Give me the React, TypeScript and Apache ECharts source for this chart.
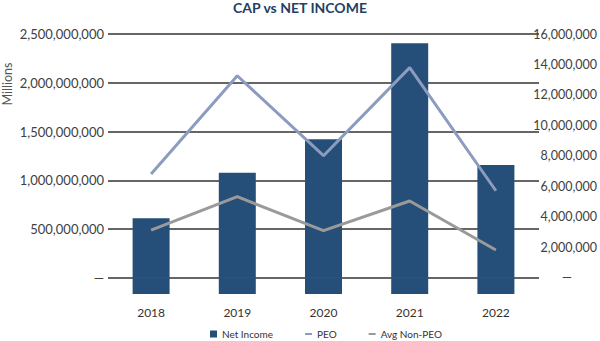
import React, { useEffect, useRef } from "react";
import * as echarts from "echarts";

const categories = ["2018", "2019", "2020", "2021", "2022"];
const netIncome = [610e6, 1077e6, 1420e6, 2405e6, 1156e6];
const peo = [6.81e6, 13.26e6, 8.01e6, 13.79e6, 5.71e6];
const avgNonPeo = [3.13e6, 5.32e6, 3.09e6, 5.04e6, 1.82e6];
const leftTicks = [0, 500e6, 1000e6, 1500e6, 2000e6, 2500e6];
const rightTicks = [0, 2e6, 4e6, 6e6, 8e6, 10e6, 12e6, 14e6, 16e6];

const LEFT_MAX = 2500e6;
const RIGHT_MAX = 16e6;
const LEFT_MIN = -LEFT_MAX / 15;
const RIGHT_MIN = -RIGHT_MAX / 15;
const barBase = categories.map(() => LEFT_MIN);

const FONT = "Lato";
const BAR = "#254f79";
const PEO_C = "#8b9cbe";
const NONPEO_C = "#9a9a9a";
const LINE_ICON =
  "path://M0,0L0.01,0L0.01,0.01L0,0.01Z M0,2.6L7,2.6L7,4.4L0,4.4Z M6.99,6.99L7,6.99L7,7L6.99,7Z";

const fmt = (v: number) => (v === 0 ? "—" : Math.round(v).toLocaleString("en-US"));

export default function App() {
  const ref = useRef<HTMLDivElement>(null);
  useEffect(() => {
    if (!ref.current) return;
    const chart = echarts.init(ref.current, null, { renderer: "svg" });
    chart.setOption({
      animation: false,
      textStyle: { fontFamily: FONT },
      title: {
        text: "CAP vs NET INCOME",
        left: "center",
        top: -5,
        textStyle: { fontFamily: FONT, fontWeight: "bold", fontSize: 14, color: "#243f66" },
      },
      graphic: [
        {
          type: "text",
          x: 1,
          y: 84,
          rotation: Math.PI / 2,
          style: {
            text: "Millions",
            fontFamily: FONT,
            fontSize: 12.5,
            fill: "#555",
            textAlign: "center",
            textVerticalAlign: "top",
          },
        },
      ],
      legend: {
        left: 210,
        top: 329,
        padding: 0,
        itemWidth: 7,
        itemHeight: 7,
        itemGap: 32,
        textStyle: { fontFamily: FONT, fontSize: 10, color: "#333" },
        data: [
          { name: "Net Income", icon: "rect" },
          { name: "PEO", icon: LINE_ICON },
          { name: "Avg Non-PEO", icon: LINE_ICON },
        ],
      },
      grid: { left: 108, right: 60, top: 34, bottom: 47, containLabel: false },
      xAxis: {
        type: "category",
        data: categories,
        axisLine: { show: false },
        axisTick: { show: false },
        axisLabel: { fontFamily: FONT, fontSize: 12, color: "#333", margin: 12 },
      },
      yAxis: [
        {
          type: "value",
          min: LEFT_MIN,
          max: LEFT_MAX,
          axisLine: { show: false },
          axisTick: { show: false, customValues: leftTicks },
          axisLabel: {
            customValues: leftTicks,
            formatter: fmt,
            fontFamily: FONT,
            fontSize: 13,
            color: "#404040",
            margin: 4,
          },
          splitLine: { show: true, lineStyle: { color: "#333", width: 1.5 } },
        },
        {
          type: "value",
          min: RIGHT_MIN,
          max: RIGHT_MAX,
          axisLine: { show: false },
          axisTick: { show: false, customValues: rightTicks },
          splitLine: { show: false },
          axisLabel: {
            customValues: rightTicks,
            align: "right",
            margin: 58,
            fontFamily: FONT,
            fontSize: 12.5,
            color: "#404040",
            formatter: (v: number) => (v === 0 ? "{d|—}" : fmt(v)),
            rich: { d: { fontFamily: FONT, fontSize: 12.5, color: "#404040", padding: [0, 25, 0, 0] } },
          },
        },
      ],
      series: [
        {
          name: "Net Income",
          type: "bar",
          stack: "ni",
          barWidth: 37,
          data: netIncome,
          itemStyle: { color: BAR },
        },
        {
          name: "base",
          type: "bar",
          stack: "ni",
          barWidth: 37,
          data: barBase,
          itemStyle: { color: BAR },
        },
        {
          name: "PEO",
          type: "line",
          yAxisIndex: 1,
          data: peo,
          symbol: "none",
          lineStyle: { color: PEO_C, width: 3 },
          itemStyle: { color: PEO_C },
        },
        {
          name: "Avg Non-PEO",
          type: "line",
          yAxisIndex: 1,
          data: avgNonPeo,
          symbol: "none",
          lineStyle: { color: NONPEO_C, width: 3 },
          itemStyle: { color: NONPEO_C },
        },
      ],
    });
    return () => chart.dispose();
  }, []);
  return (
    <div
      ref={ref}
      style={{ position: "fixed", left: 0, top: 0, width: 600, height: 341, background: "#fff" }}
    />
  );
}
